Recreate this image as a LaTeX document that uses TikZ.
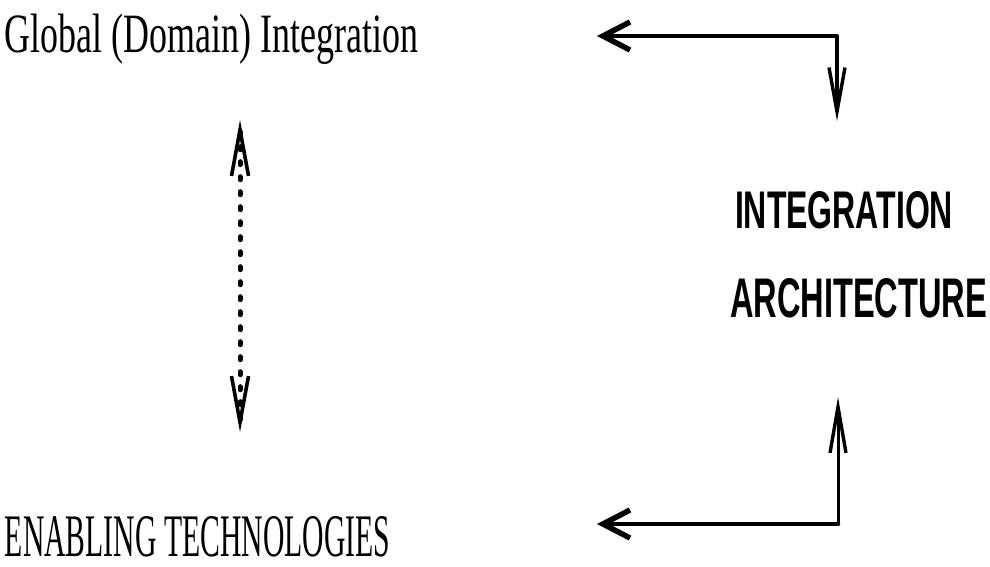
\documentclass[tikz,border=0pt]{standalone}
\usepackage{fontspec}
\setmainfont{Liberation Serif}
\newfontfamily\labelsans{Liberation Sans}
\usetikzlibrary{arrows.meta}

\tikzset{
  label/.style={inner sep=0pt, outer sep=0pt, anchor=base west},
  flow/.style={line width=4.4pt, line cap=round, line join=round,
    {Straight Barb[length=27pt,width=28pt,line width=5.5pt]}-{Straight Barb[length=44pt,width=16pt,line width=3.4pt]}},
  rise/.style={line width=3pt, line cap=round,
    -{Straight Barb[length=46pt,width=16pt,line width=3.4pt]}},
  base/.style={line width=4.6pt, line cap=round, line join=round,
    {Straight Barb[length=27pt,width=28pt,line width=5.5pt]}-},
  link/.style={line width=5pt, line cap=round, dash pattern=on 3pt off 12pt,
    {Straight Barb[length=46pt,width=17pt,line width=3.6pt]}-{Straight Barb[length=46pt,width=17pt,line width=3.6pt]}}
}

\begin{document}
\begin{tikzpicture}[x=1pt,y=-1pt]
  \useasboundingbox (0,0) rectangle (990,567);

  % text labels
  \node[label] (global) at (5,53)
    {\resizebox{413pt}{38.5pt}{\fontsize{54}{60}\selectfont Global (Domain) Integration}};
  \node[label] (enabling) at (5,556)
    {\resizebox{385pt}{40pt}{\fontsize{60}{66}\selectfont ENABLING TECHNOLOGIES}};
  \node[label] (integ) at (735,228)
    {\resizebox{218pt}{37pt}{\labelsans\bfseries\fontsize{50}{56}\selectfont INTEGRATION}};
  \node[label] (arch) at (730,317)
    {\resizebox{257pt}{39pt}{\labelsans\bfseries\fontsize{54}{60}\selectfont ARCHITECTURE}};

  % connector end points
  \coordinate (topL)  at (597,36);
  \coordinate (topC)  at (837,36);
  \coordinate (topD)  at (837,121);
  \coordinate (botL)  at (597,524);
  \coordinate (botC)  at (838,524);
  \coordinate (botU)  at (838,397);
  \coordinate (dotT)  at (240,120);
  \coordinate (dotB)  at (240,432);

  % upper elbow: back to the global level and down into the architecture
  \draw[flow] (topL) -- (topC) -- (topD);
  % lower elbow: from the architecture down to the technologies
  \draw[rise] (botC) -- (botU);
  \draw[base] (botL) -- (botC);
  % dotted two-way link between the levels
  \draw[link] (dotT) -- (dotB);
\end{tikzpicture}
\end{document}
